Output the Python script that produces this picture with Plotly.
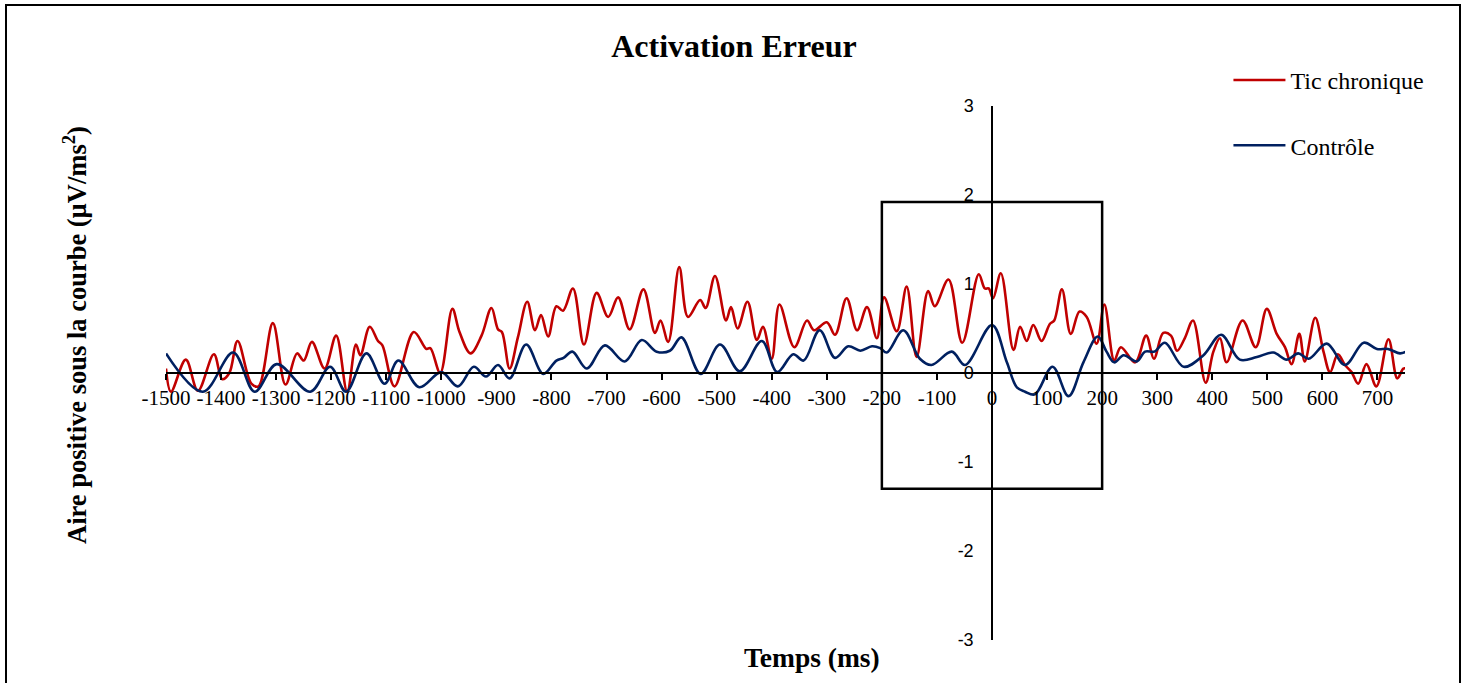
import plotly.graph_objects as go

# ---------------- data ----------------
tic_t = [-1500, -1491, -1464, -1442, -1413, -1398, -1385, -1370, -1345, -1332,
         -1306, -1283, -1262, -1250, -1235, -1212, -1191, -1171, -1155, -1147,
         -1130, -1115, -1107, -1085, -1050, -1027, -1020, -1002, -980, -967,
         -947, -927, -909, -897, -890, -876, -861, -844, -830, -819,
         -806, -791, -779, -761, -741, -718, -697, -679, -658, -633,
         -612, -602, -588, -568, -552, -530, -520, -503, -483, -474,
         -462, -444, -427, -416, -400, -386, -359, -336, -323, -300,
         -285, -264, -245, -227, -209, -196, -173, -155, -137, -116,
         -104, -79, -54, -24, -13, -6, 2, 16, 39, 51,
         63, 75, 90, 105, 113, 127, 143, 159, 172, 190,
         204, 222, 234, 260, 280, 294, 311, 325, 336, 350,
         365, 388, 402, 414, 426, 455, 479, 499, 517, 532,
         544, 558, 568, 587, 602, 614, 628, 641, 653, 665,
         680, 698, 720, 736, 747, 752]
tic_v = [0.05, -0.21, 0.15, -0.20, 0.21, -0.07, 0.00, 0.36, -0.12, -0.15,
         0.56, -0.13, 0.22, 0.14, 0.35, 0.05, 0.42, -0.21, 0.32, 0.20,
         0.52, 0.36, 0.31, -0.15, 0.46, 0.27, 0.28, 0.00, 0.72, 0.46,
         0.22, 0.42, 0.73, 0.49, 0.46, 0.05, 0.40, 0.80, 0.48, 0.65,
         0.41, 0.75, 0.70, 0.95, 0.32, 0.90, 0.63, 0.85, 0.49, 0.94,
         0.45, 0.59, 0.35, 1.19, 0.63, 0.82, 0.73, 1.09, 0.59, 0.74,
         0.50, 0.80, 0.37, 0.52, 0.16, 0.77, 0.29, 0.59, 0.48, 0.57,
         0.43, 0.84, 0.48, 0.74, 0.39, 0.85, 0.47, 0.97, 0.18, 0.92,
         0.75, 1.05, 0.34, 1.11, 0.95, 0.95, 0.84, 1.12, 0.26, 0.52,
         0.36, 0.54, 0.36, 0.55, 0.59, 0.94, 0.44, 0.69, 0.63, 0.33,
         0.77, 0.14, 0.29, 0.12, 0.42, 0.16, 0.45, 0.42, 0.25, 0.39,
         0.59, -0.11, 0.24, 0.39, 0.12, 0.59, 0.29, 0.72, 0.44, 0.29,
         0.10, 0.44, 0.13, 0.62, 0.24, 0.01, 0.21, 0.09, 0.01, -0.12,
         0.10, -0.15, 0.38, -0.06, 0.05, 0.05]

ctrl_t = [-1500, -1433, -1378, -1339, -1299, -1238, -1202, -1173, -1136, -1103,
          -1078, -1040, -1000, -970, -941, -919, -897, -876, -846, -815,
          -791, -778, -762, -736, -703, -667, -636, -609, -585, -564,
          -529, -494, -458, -418, -390, -361, -342, -313, -285, -261,
          -239, -218, -203, -191, -161, -131, -110, -73, -49, 0,
          27, 45, 60, 78, 110, 139, 166, 192, 208, 222,
          239, 263, 278, 295, 314, 348, 384, 416, 450, 481,
          511, 535, 556, 575, 608, 641, 675, 699, 719, 741, 752]
ctrl_v = [0.22, -0.21, 0.23, -0.21, 0.10, -0.21, 0.07, -0.21, 0.22, -0.12,
          0.14, -0.16, 0.01, -0.15, 0.07, -0.04, 0.09, -0.06, 0.32, -0.01,
          0.14, 0.17, 0.24, 0.05, 0.31, 0.13, 0.37, 0.24, 0.25, 0.40,
          -0.01, 0.32, 0.02, 0.36, 0.01, 0.21, 0.14, 0.48, 0.17, 0.30,
          0.25, 0.30, 0.28, 0.23, 0.48, 0.16, 0.09, 0.24, 0.09, 0.54,
          0.12, -0.16, -0.21, -0.24, 0.07, -0.26, 0.12, 0.41, 0.24, 0.12,
          0.20, 0.13, 0.24, 0.24, 0.34, 0.07, 0.20, 0.43, 0.15, 0.18,
          0.23, 0.15, 0.22, 0.16, 0.33, 0.09, 0.34, 0.27, 0.27, 0.22, 0.24]

series_names = ["Tic chronique", "Contrôle"]
series_colors = ["#C00000", "#002060"]

x_ticks = list(range(-1500, 701, 100))
x_ticklabels = [str(v) for v in x_ticks]          # plain hyphen-minus
y_ticks = [-3, -2, -1, 0, 1, 2, 3]
y_ticklabels = [str(v) for v in y_ticks]

box_x = [-200, 200]       # highlighted window (ms)
box_y = [-1.3, 1.92]

X_RANGE = [-1500, 750]
Y_RANGE = [-3, 3]

SERIF = "Liberation Serif, Times New Roman, serif"
SANS = "Liberation Sans, Arial, sans-serif"

# ---------------- figure ----------------
fig = go.Figure()
for name, t, v, col, grp in [(series_names[0], tic_t, tic_v, series_colors[0], "g1"),
                             (series_names[1], ctrl_t, ctrl_v, series_colors[1], "g2")]:
    fig.add_trace(go.Scatter(x=t, y=v, mode="lines", name=name, legendgroup=grp,
                             line=dict(color=col, width=2.6, shape="spline", smoothing=1)))

y_pos = (0 - Y_RANGE[0]) / (Y_RANGE[1] - Y_RANGE[0])
x_pos = (0 - X_RANGE[0]) / (X_RANGE[1] - X_RANGE[0])

fig.update_layout(
    width=1468, height=683,
    margin=dict(l=166, r=63, t=106, b=43),
    paper_bgcolor="white", plot_bgcolor="white",
    title=dict(text="<b>Activation Erreur</b>", x=0.5, xref="container", xanchor="center",
               y=1 - 46 / 683, yref="container", yanchor="middle",
               font=dict(family=SERIF, size=32, color="black")),
    xaxis=dict(range=X_RANGE, tickvals=x_ticks, ticktext=x_ticklabels, tickangle=0,
               anchor="free", position=y_pos,
               showline=True, linecolor="black", linewidth=2,
               ticks="outside", ticklen=6, tickwidth=1.5, tickcolor="black",
               showgrid=False, zeroline=False,
               tickfont=dict(family=SERIF, size=21, color="black")),
    xaxis2=dict(range=X_RANGE, tickvals=x_ticks, anchor="free", position=y_pos,
                overlaying="x", showline=False, ticks="inside", ticklen=6,
                tickwidth=1.5, tickcolor="black", showticklabels=False,
                showgrid=False, zeroline=False),
    yaxis=dict(range=Y_RANGE, tickvals=y_ticks, ticktext=y_ticklabels,
               anchor="free", position=x_pos,
               side="left", showline=True, linecolor="black", linewidth=1.5,
               ticks="", showgrid=False, zeroline=False, ticklabelstandoff=14,
               tickfont=dict(family=SANS, size=18, color="black")),
    showlegend=True,
    legend=dict(x=0.8575, y=1.09, xanchor="left", yanchor="top",
                font=dict(family=SERIF, size=24, color="black"),
                tracegroupgap=31, itemwidth=52, bgcolor="rgba(0,0,0,0)"),
)

# highlighted window
fig.add_shape(type="rect", xref="x", yref="y", x0=box_x[0], x1=box_x[1],
              y0=box_y[0], y1=box_y[1], line=dict(color="black", width=2.5),
              fillcolor="rgba(0,0,0,0)", layer="above")

# outer frame
fig.add_shape(type="rect", xref="paper", yref="paper",
              x0=(6 - 166) / 1239, x1=(1460 - 166) / 1239,
              y0=(640 - 700) / 534, y1=(640 - 5) / 534,
              line=dict(color="black", width=2), fillcolor="rgba(0,0,0,0)")

# axis titles as annotations
fig.add_annotation(text="<b>Temps (ms)</b>", xref="paper", yref="paper",
                   x=(812 - 166) / 1239, y=(640 - 657) / 534, showarrow=False,
                   xanchor="center", yanchor="middle",
                   font=dict(family=SERIF, size=27.5, color="black"))
fig.add_annotation(text="<b>Aire positive sous la courbe (µV/ms<sup>2</sup>)</b>",
                   xref="paper", yref="paper", textangle=-90,
                   x=(75 - 166) / 1239, y=(640 - 335) / 534, showarrow=False,
                   xanchor="center", yanchor="middle",
                   font=dict(family=SERIF, size=26.5, color="black"))

fig.write_html("out.html")
